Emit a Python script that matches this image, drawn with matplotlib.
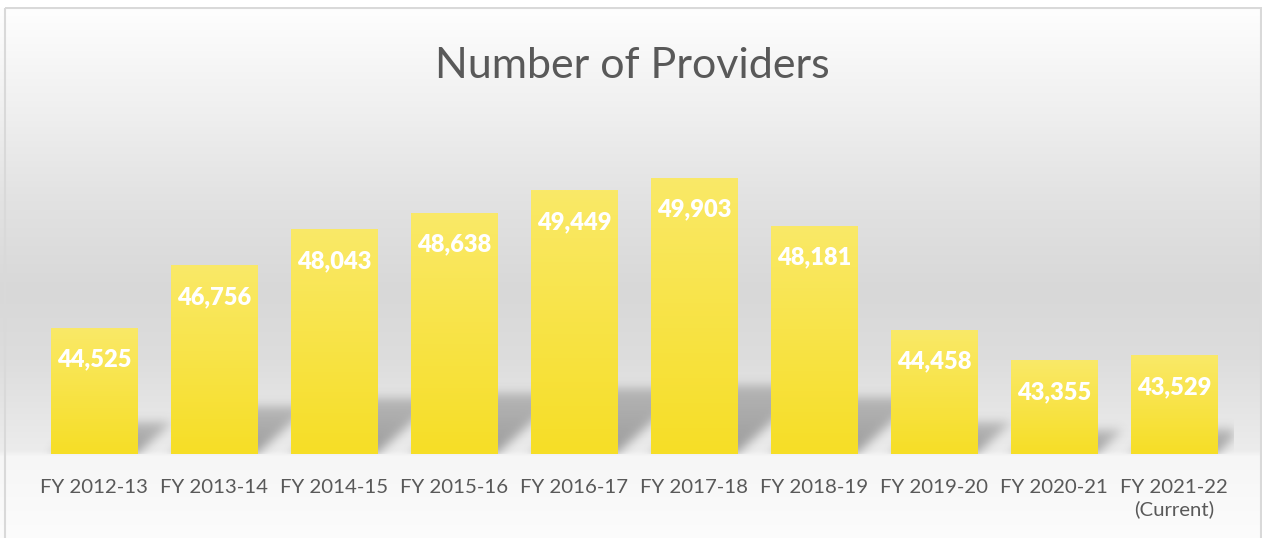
import numpy as np
import matplotlib
matplotlib.use("Agg")
import matplotlib.pyplot as plt
from matplotlib.patches import Rectangle

# data
years = ["FY 2012-13", "FY 2013-14", "FY 2014-15", "FY 2015-16", "FY 2016-17",
         "FY 2017-18", "FY 2018-19", "FY 2019-20", "FY 2020-21", "FY 2021-22\n(Current)"]
providers = [44525, 46756, 48043, 48638, 49449, 49903, 48181, 44458, 43355, 43529]
labels = ["44,525", "46,756", "48,043", "48,638", "49,449",
          "49,903", "48,181", "44,458", "43,355", "43,529"]
title = "Number of Providers"

plt.rcParams['font.family'] = ['Lato', 'DejaVu Sans']
W, H = 1262, 538
fig = plt.figure(figsize=(W / 100, H / 100), dpi=100)

#%% background gradient over the chart area
bg = fig.add_axes([0, 0, 1, 1], zorder=-10)
bg.set_axis_off()
rows = np.arange(H)
stops_y = [0, 8, 100, 200, 290, 360, 450, 456, 538]
stops_c = [255, 254, 241, 226, 216, 221, 236, 246, 252]
g = np.interp(rows, stops_y, stops_c) / 255.0
img = np.repeat(g[:, None], W, axis=1)
bg.imshow(np.dstack([img, img, img]), aspect='auto', extent=[0, W, H, 0])
bg.set_xlim(0, W)
bg.set_ylim(H, 0)
bg.add_patch(Rectangle((4.5, 7.5), W - 6, H, fill=False, edgecolor='#d9d9d9', lw=1.5))
# white strip above border
bg.add_patch(Rectangle((0, 0), W, 7, color='white', lw=0))

#%% main axes
ymin, ymax = 40000, 52000
ax = fig.add_axes([34 / W, (H - 454) / H, 1200 / W, 335 / H])
ax.patch.set_alpha(0)
ax.set_xlim(-0.5, len(years) - 0.5)
ax.set_ylim(ymin, ymax)
for s in ax.spines.values():
    s.set_visible(False)
ax.set_yticks([])
ax.set_xticks(range(len(years)))
ax.set_xticklabels(years, fontsize=14.7, color='#595959', linespacing=1.3)
ax.tick_params(axis='x', length=0, pad=18)

bars = ax.bar(range(len(years)), providers, width=0.72, bottom=0, color='none', zorder=3)

#%% perspective shadows (computed on a pixel grid of the axes)
nx, ny = 1200, 335
xs = np.linspace(-0.5, len(years) - 0.5, nx)
ys = np.linspace(ymin, ymax, ny)
X, Y = np.meshgrid(xs, ys)
shadow = np.zeros_like(X)
px_per_x = nx / len(years)
px_per_y = ny / (ymax - ymin)
for b in bars:
    x0 = b.get_x()
    w = b.get_width()
    h = b.get_height() - ymin
    sh = 0.25 * h                       # shadow height in data units
    t = (Y - ymin) / sh                 # 0 at floor, 1 at shadow top
    shift = t * sh * px_per_y * 1.1 / px_per_x
    inside = (t >= 0) & (t <= 1) & (X >= x0 + shift) & (X <= x0 + w + shift)
    shadow = np.maximum(shadow, inside * (1 - 0.4 * t))

def blur(a, r):
    k = np.exp(-0.5 * (np.arange(-3 * r, 3 * r + 1) / r) ** 2)
    k /= k.sum()
    a = np.apply_along_axis(lambda m: np.convolve(m, k, mode='same'), 1, a)
    a = np.apply_along_axis(lambda m: np.convolve(m, k, mode='same'), 0, a)
    return a

shadow = blur(shadow, 5)
rgba = np.zeros((ny, nx, 4))
rgba[..., :3] = 0.35
rgba[..., 3] = shadow * 0.55
ax.imshow(rgba, origin='lower', aspect='auto', zorder=1,
          extent=[-0.5, len(years) - 0.5, ymin, ymax])

#%% gradient fill of the bars
top_c = np.array([250, 233, 104]) / 255
bot_c = np.array([246, 222, 38]) / 255
grad = np.linspace(0, 1, 256)[:, None, None]
gimg = bot_c * (1 - grad) + top_c * grad
for b in bars:
    x0, w, h = b.get_x(), b.get_width(), b.get_height()
    im = ax.imshow(gimg, origin='lower', aspect='auto', zorder=3,
                   extent=[x0, x0 + w, ymin, h])
    im.set_clip_path(b)

ax.set_xlim(-0.5, len(years) - 0.5)
ax.set_ylim(ymin, ymax)

for b, lab in zip(bars, labels):
    ax.annotate(lab, (b.get_x() + b.get_width() / 2, b.get_height()),
                xytext=(0, -23), textcoords='offset points', ha='center', va='center',
                fontsize=17, fontweight='heavy', color='white', zorder=5)

fig.text(632 / W, 1 - 66 / H, title, ha='center', va='center', fontsize=31, color='#595959')

fig.savefig("out.png", dpi=100)
